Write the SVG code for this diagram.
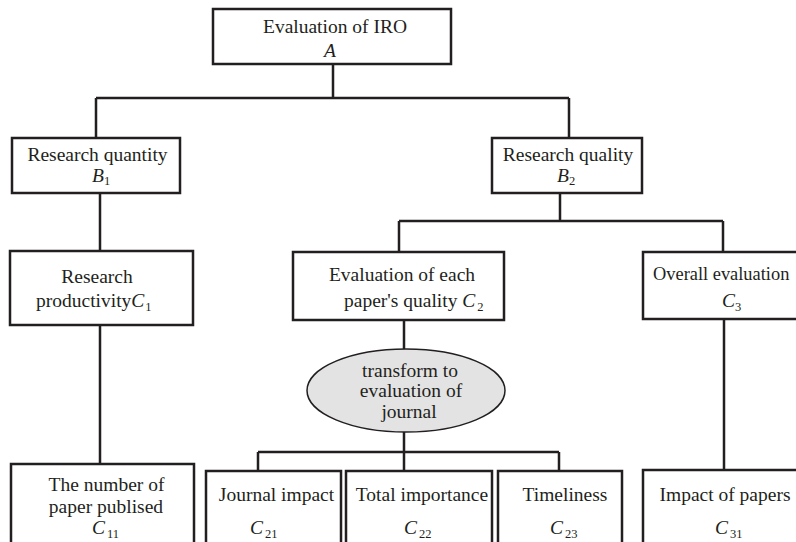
<svg xmlns="http://www.w3.org/2000/svg" width="796" height="542" viewBox="0 0 796 542">
<style>
.box{fill:#ffffff;stroke:#231f20;stroke-width:2.5}
.ell{fill:#e3e3e3;stroke:#231f20;stroke-width:1.5}
.ln{fill:none;stroke:#231f20;stroke-width:2.5}
text{font-family:"Liberation Serif","Times New Roman",serif;font-size:19.5px;fill:#231f20}
.m{text-anchor:middle}
.i{font-style:italic}
.s{font-size:12.5px;font-style:normal}
</style>
<rect width="796" height="542" fill="#ffffff"/>
<g id="connectors">
<path class="ln" d="M333 64V98M96 98H569M96 98V138M569 98V138"/>
<path class="ln" d="M100 193V251M100 325V464"/>
<path class="ln" d="M560 193V221M399 221H723M399 221V252M723 221V252"/>
<path class="ln" d="M404 320V349M404 432V471M258 452H559M258 452V471M559 452V471"/>
<path class="ln" d="M724 320V470"/>
</g>
<g id="nodeA">
<rect class="box" x="213" y="9" width="238" height="55"/>
<text class="m" x="335" y="33">Evaluation of IRO</text>
<text class="m i" x="330" y="57">A</text>
</g>
<g id="nodeB1">
<rect class="box" x="12" y="138" width="168" height="55"/>
<text class="m" x="97.5" y="161">Research quantity</text>
<text x="92" y="182"><tspan class="i">B</tspan><tspan class="s" dx="0" dy="3">1</tspan></text>
</g>
<g id="nodeB2">
<rect class="box" x="492" y="138" width="150" height="55"/>
<text class="m" x="568" y="161">Research quality</text>
<text x="557" y="182"><tspan class="i">B</tspan><tspan class="s" dx="0" dy="3">2</tspan></text>
</g>
<g id="nodeC1">
<rect class="box" x="10" y="251" width="183" height="74"/>
<text class="m" x="97" y="283">Research</text>
<text x="36" y="307">productivity<tspan class="i">C</tspan><tspan class="s" dx="1" dy="4">1</tspan></text>
</g>
<g id="nodeC2">
<rect class="box" x="293" y="252" width="211" height="68"/>
<text class="m" x="402" y="281">Evaluation of each</text>
<text x="344" y="307">paper's quality <tspan class="i">C</tspan><tspan class="s" dx="2" dy="4">2</tspan></text>
</g>
<g id="nodeC3">
<rect class="box" x="643" y="252" width="170" height="67"/>
<text x="653" y="280" style="font-size:18.4px">Overall evaluation</text>
<text x="722" y="307"><tspan class="i">C</tspan><tspan class="s" dx="0" dy="4">3</tspan></text>
</g>
<g id="nodeTransform">
<ellipse class="ell" cx="406" cy="390.5" rx="99" ry="41.5"/>
<text class="m" x="410" y="377">transform to</text>
<text class="m" x="411" y="397">evaluation of</text>
<text class="m" x="409" y="418">journal</text>
</g>
<g id="nodeC11">
<rect class="box" x="11" y="464" width="183" height="100"/>
<text class="m" x="106.5" y="491">The number of</text>
<text class="m" x="106" y="513">paper publised</text>
<text x="92" y="534"><tspan class="i">C</tspan><tspan class="s" dx="2" dy="4">11</tspan></text>
</g>
<g id="nodeC21">
<rect class="box" x="206" y="471" width="135" height="100"/>
<text class="m" x="276.5" y="501">Journal impact</text>
<text x="250" y="534"><tspan class="i">C</tspan><tspan class="s" dx="2" dy="4">21</tspan></text>
</g>
<g id="nodeC22">
<rect class="box" x="346" y="471" width="146" height="100"/>
<text class="m" x="422" y="501">Total importance</text>
<text x="404" y="534"><tspan class="i">C</tspan><tspan class="s" dx="2" dy="4">22</tspan></text>
</g>
<g id="nodeC23">
<rect class="box" x="498" y="471" width="124" height="100"/>
<text class="m" x="565" y="501">Timeliness</text>
<text x="550" y="534"><tspan class="i">C</tspan><tspan class="s" dx="2" dy="4">23</tspan></text>
</g>
<g id="nodeC31">
<rect class="box" x="643" y="470" width="170" height="100"/>
<text class="m" x="725" y="501">Impact of papers</text>
<text x="715" y="534"><tspan class="i">C</tspan><tspan class="s" dx="2" dy="4">31</tspan></text>
</g>
</svg>
